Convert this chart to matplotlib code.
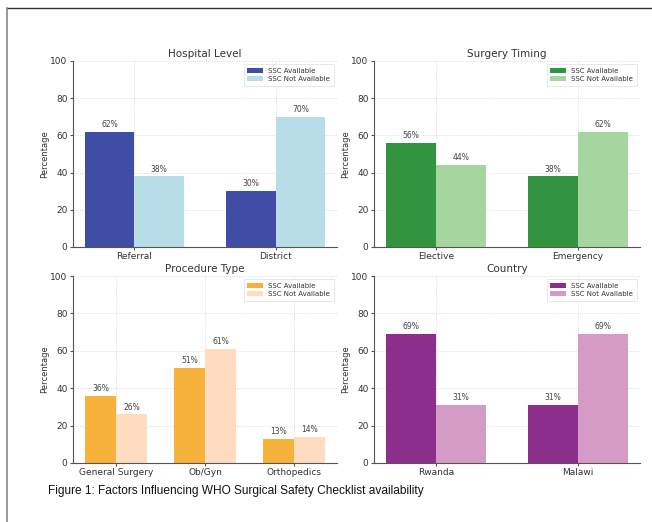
import matplotlib
matplotlib.use("Agg")
import matplotlib.pyplot as plt
import numpy as np

hosp_cats = ["Referral", "District"]
hosp_avail = [62, 30]
hosp_not = [38, 70]

timing_cats = ["Elective", "Emergency"]
timing_avail = [56, 38]
timing_not = [44, 62]

proc_cats = ["General Surgery", "Ob/Gyn", "Orthopedics"]
proc_avail = [36, 51, 13]
proc_not = [26, 61, 14]

country_cats = ["Rwanda", "Malawi"]
country_avail = [69, 31]
country_not = [31, 69]

panels = [
    ("Hospital Level", hosp_cats, hosp_avail, hosp_not, "#3f4ea4", "#b7dde8"),
    ("Surgery Timing", timing_cats, timing_avail, timing_not, "#339440", "#a6d6a0"),
    ("Procedure Type", proc_cats, proc_avail, proc_not, "#f7b23c", "#fddcbf"),
    ("Country", country_cats, country_avail, country_not, "#8c2e8c", "#d49bc6"),
]

fig = plt.figure(figsize=(6.52, 5.22), dpi=100)
W, H = 652, 522
boxes = [(73, 61, 337, 247), (374, 61, 640, 247), (73, 276, 337, 463), (374, 276, 640, 463)]

txt = "#333333"
for (title, cats, av, na, c1, c2), (x0, y0, x1, y1) in zip(panels, boxes):
    ax = fig.add_axes([x0 / W, 1 - y1 / H, (x1 - x0) / W, (y1 - y0) / H])
    x = np.arange(len(cats))
    w = 0.35
    b1 = ax.bar(x - w / 2, av, w, color=c1, label="SSC Available", zorder=2)
    b2 = ax.bar(x + w / 2, na, w, color=c2, label="SSC Not Available", zorder=2)
    for bars in (b1, b2):
        for b in bars:
            ax.text(b.get_x() + b.get_width() / 2, b.get_height() + 1.5,
                    f"{int(b.get_height())}%", ha="center", va="bottom",
                    fontsize=5.5, color="#444444")
    ax.set_ylim(0, 100)
    ax.set_xticks(x)
    ax.set_xticklabels(cats, fontsize=6.5, color=txt)
    ax.tick_params(axis="y", labelsize=6.5, labelcolor=txt, length=2, color="#555555", pad=2)
    ax.tick_params(axis="x", length=2, color="#555555", pad=1.5)
    ax.set_ylabel("Percentage", fontsize=6, color=txt, labelpad=1)
    ax.set_title(title, fontsize=7.5, color=txt, pad=3)
    ax.grid(True, linestyle=":", color="#d0d0d0", linewidth=0.6, zorder=0)
    ax.set_axisbelow(True)
    for s in ("top", "right"):
        ax.spines[s].set_visible(False)
    for s in ("left", "bottom"):
        ax.spines[s].set_color("#555555")
        ax.spines[s].set_linewidth(0.8)
    leg = ax.legend(fontsize=5, loc="upper right", frameon=True, handlelength=2.2,
                    borderpad=0.5, labelspacing=0.3, fancybox=False)
    leg.get_frame().set_edgecolor("#dddddd")
    leg.get_frame().set_linewidth(0.6)
    for t in leg.get_texts():
        t.set_color(txt)

# page border lines
fig.add_artist(plt.Line2D([6.5 / W, 1.0], [1 - 8 / H, 1 - 8 / H], color="#333333", linewidth=1.0))
fig.add_artist(plt.Line2D([6.5 / W, 6.5 / W], [0, 1 - 8 / H], color="#888888", linewidth=1.2))

fig.text(48 / W, 1 - 491 / H, "Figure 1: Factors Influencing WHO Surgical Safety Checklist availability",
         fontsize=8.6, family="Liberation Sans", va="center", ha="left",
         color="#111111")

fig.savefig("out.png", dpi=100)
